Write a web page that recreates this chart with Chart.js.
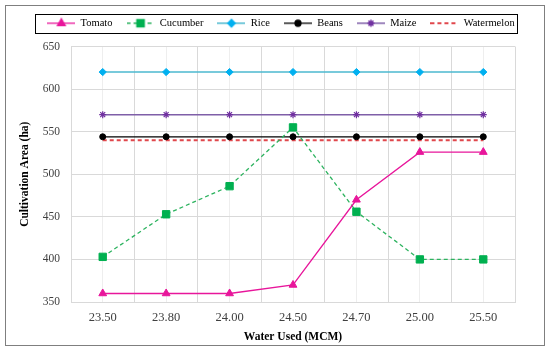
<!DOCTYPE html>
<html lang="en">
<head>
    <meta charset="UTF-8">
    <title>Cultivation Area vs Water Used</title>
    <script src="https://cdn.jsdelivr.net/npm/chart.js"></script>
    <style>
        body { margin: 0; background: #fff; }
        #wrap { width: 550px; height: 352px; position: relative; }
    </style>
</head>
<body>
    <div id="wrap"><canvas id="chart"></canvas></div>
    <script>
        // Datos
        const waterUsed = ['23.50', '23.80', '24.00', '24.50', '24.70', '25.00', '25.50'];
        const tomato = [360, 360, 360, 370, 470, 526, 526];
        const cucumber = [403, 453, 486, 555, 456, 400, 400];
        const rice = [620, 620, 620, 620, 620, 620, 620];
        const beans = [544, 544, 544, 544, 544, 544, 544];
        const maize = [570, 570, 570, 570, 570, 570, 570];
        const watermelon = [540, 540, 540, 540, 540, 540, 540];
        const yTicks = [350, 400, 450, 500, 550, 600, 650];

        const serif = "'Liberation Serif', 'DejaVu Serif', serif";
        const toPoints = arr => arr.map((v, i) => ({ x: i, y: v }));

        const series = [
            { label: 'Tomato', data: tomato, line: '#e8169b', mark: '#e8169b', style: 'triangle', r: 4.5, dash: [], w: 1.3 },
            { label: 'Cucumber', data: cucumber, line: '#2db35f', mark: '#00b050', style: 'rect', r: 5.2, dash: [4, 3], w: 1.3 },
            { label: 'Rice', data: rice, line: '#4bb8cf', mark: '#00b0f0', style: 'rectRot', r: 3.6, dash: [], w: 1.5 },
            { label: 'Beans', data: beans, line: '#000000', mark: '#000000', style: 'circle', r: 3, dash: [], w: 1.3 },
            { label: 'Maize', data: maize, line: '#7f5fa8', mark: '#7030a0', style: 'star', r: 3.5, dash: [], w: 1.5 },
            { label: 'Watermelon', data: watermelon, line: '#e0474c', mark: '#e0474c', style: false, r: 0, dash: [4, 3], w: 2 }
        ];

        // Icono de leyenda: línea con marcador
        function legendIcon(s) {
            const c = document.createElement('canvas');
            c.width = 28; c.height = 12;
            const ctx = c.getContext('2d');
            ctx.strokeStyle = s.line;
            ctx.lineWidth = s.w;
            ctx.setLineDash(s.dash);
            ctx.beginPath(); ctx.moveTo(0, 6); ctx.lineTo(28, 6); ctx.stroke();
            ctx.setLineDash([]);
            if (s.style) {
                ctx.fillStyle = s.mark;
                ctx.strokeStyle = s.mark;
                Chart.helpers.drawPoint(ctx, {
                    pointStyle: s.style, radius: s.r, rotation: 0,
                    borderWidth: s.style === 'star' ? 1.2 : 1
                }, 14, 6);
            }
            return c;
        }

        // Marco exterior, borde de la leyenda y espacio bajo la leyenda
        const framePlugin = {
            id: 'frame',
            afterInit(chart) {
                const lg = chart.legend;
                if (!lg) return;
                const fit = lg.fit.bind(lg);
                lg.fit = function () { fit(); this.height += 8; };
            },
            afterDraw(chart) {
                const ctx = chart.ctx;
                ctx.save();
                ctx.strokeStyle = '#7f7f7f';
                ctx.lineWidth = 1;
                ctx.strokeRect(5.5, 5.5, chart.width - 11, chart.height - 12);
                const boxes = chart.legend.legendHitBoxes;
                if (boxes && boxes.length) {
                    const l = Math.min(...boxes.map(b => b.left));
                    const r = Math.max(...boxes.map(b => b.left + b.width));
                    const t = Math.min(...boxes.map(b => b.top));
                    const h = boxes[0].height;
                    ctx.strokeStyle = '#000';
                    ctx.strokeRect(Math.round(l - 12) + 0.5, Math.round(t - 4) + 0.5,
                        Math.round(r - l + 15), Math.round(h + 8));
                }
                ctx.restore();
            }
        };

        new Chart(document.getElementById('chart'), {
            type: 'line',
            data: {
                datasets: series.map(s => ({
                    label: s.label,
                    data: toPoints(s.data),
                    borderColor: s.line,
                    backgroundColor: s.mark,
                    borderWidth: s.w,
                    borderDash: s.dash,
                    pointStyle: s.style,
                    pointRadius: s.r,
                    pointBorderColor: s.mark,
                    pointBackgroundColor: s.mark,
                    pointBorderWidth: s.style === 'star' ? 1.2 : 1,
                    tension: 0
                }))
            },
            options: {
                responsive: true,
                maintainAspectRatio: false,
                animation: false,
                layout: { padding: { top: 4, left: 14, right: 2, bottom: 7 } },
                plugins: {
                    tooltip: { enabled: false },
                    legend: {
                        position: 'top',
                        labels: {
                            usePointStyle: true,
                            pointStyleWidth: 28,
                            padding: 14,
                            color: '#000',
                            font: { family: serif, size: 10.5 },
                            generateLabels(chart) {
                                const items = Chart.defaults.plugins.legend.labels.generateLabels(chart);
                                items.forEach((it, i) => { it.pointStyle = legendIcon(series[i]); });
                                return items;
                            }
                        }
                    }
                },
                scales: {
                    x: {
                        type: 'linear',
                        min: -0.5,
                        max: waterUsed.length - 0.5,
                        afterBuildTicks(scale) {
                            const t = [];
                            for (let v = -0.5; v <= waterUsed.length - 0.5; v += 0.5) t.push({ value: v });
                            scale.ticks = t;
                        },
                        afterFit(scale) { scale.height = 43; },
                        ticks: {
                            autoSkip: false,
                            maxRotation: 0,
                            padding: 8,
                            color: '#404040',
                            font: { family: serif, size: 12.5 },
                            callback: v => Number.isInteger(v) ? waterUsed[v] : ''
                        },
                        grid: {
                            drawTicks: false,
                            color: ctx => Number.isInteger(ctx.tick && ctx.tick.value) ? '#eeeeee' : '#d9d9d9'
                        },
                        border: { color: '#d9d9d9' },
                        title: {
                            display: true,
                            text: 'Water Used (MCM)',
                            color: '#000',
                            font: { family: serif, size: 11.5, weight: 'bold' },
                            padding: { top: 0, bottom: 1 }
                        }
                    },
                    y: {
                        min: 350,
                        max: 650,
                        afterBuildTicks(scale) { scale.ticks = yTicks.map(v => ({ value: v })); },
                        afterFit(scale) { scale.width = 57; },
                        ticks: {
                            padding: 11,
                            color: '#404040',
                            font: { family: serif, size: 11.5 }
                        },
                        grid: { drawTicks: false, color: '#d9d9d9' },
                        border: { color: '#d9d9d9' },
                        title: {
                            display: true,
                            text: 'Cultivation Area (ha)',
                            color: '#000',
                            font: { family: serif, size: 11.5, weight: 'bold' },
                            padding: { top: 4, bottom: 0 }
                        }
                    },
                    y2: {
                        position: 'right',
                        display: true,
                        afterFit(scale) { scale.width = 33; },
                        ticks: { display: false },
                        grid: { display: false, drawTicks: false },
                        border: { display: false }
                    }
                }
            },
            plugins: [framePlugin]
        });
    </script>
</body>
</html>
